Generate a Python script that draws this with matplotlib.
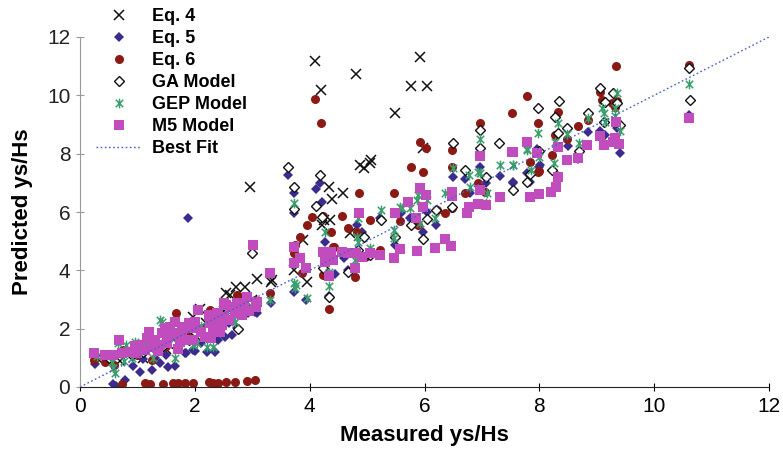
import matplotlib
matplotlib.use("Agg")
import matplotlib.pyplot as plt
from matplotlib.path import Path

# Eq. 4
eq4_x = [4.10, 5.93, 4.81, 4.20, 5.77, 6.04, 5.48, 5.98, 5.06, 4.88,
         5.05, 4.94, 4.34, 4.58, 4.39, 4.25, 4.36, 4.21, 4.70, 2.96,
         3.88, 3.72, 3.95, 3.34, 2.55, 2.72, 2.87, 3.09, 3.32, 2.61,
         2.09, 1.97, 0.30, 0.70, 1.00, 1.20, 1.40, 1.60, 1.80, 1.90,
         2.20, 2.40, 2.50, 2.80, 3.00, 1.10, 1.50, 2.00, 2.30]
eq4_y = [11.18, 11.30, 10.73, 10.18, 10.33, 10.33, 9.40, 8.19, 7.80, 7.61,
         7.69, 7.50, 6.85, 6.66, 6.43, 5.72, 5.72, 5.55, 5.29, 6.86,
         5.04, 4.01, 3.61, 3.67, 3.23, 3.44, 3.44, 3.69, 3.61, 3.15,
         2.67, 2.41, 1.00, 0.90, 1.20, 1.40, 1.50, 1.60, 1.70, 2.00,
         2.20, 2.00, 2.60, 2.70, 3.00, 1.00, 1.30, 1.80, 2.50]

# Eq. 5
eq5_x = [1.88, 0.26, 0.58, 0.63, 0.78, 0.93, 1.05, 1.25, 1.39, 1.54,
         1.65, 1.85, 2.00, 2.21, 2.35, 2.53, 2.64, 2.73, 2.90, 3.05,
         3.08, 2.93, 3.32, 3.72, 3.94, 1.83, 1.97, 1.10, 1.30, 1.50,
         1.70, 2.10, 2.40, 2.60,
         3.63, 3.73, 3.72, 4.18, 4.11, 4.21, 4.27, 4.33, 4.44, 4.59,
         4.67, 4.82, 4.92, 5.23, 5.49, 5.59, 5.75, 5.98, 6.04, 6.20,
         6.49, 6.71, 6.79, 6.97, 7.07, 7.32, 7.55, 7.78, 7.83, 7.54,
         8.00, 7.96, 8.01, 8.32, 8.50, 8.68, 8.84, 9.06, 9.15, 9.29,
         9.35, 9.40, 10.61]
eq5_y = [5.79, 0.78, 0.12, 0.04, 0.24, 0.72, 0.50, 0.60, 0.82, 0.70,
         0.71, 1.16, 1.24, 1.21, 1.21, 1.70, 1.78, 2.01, 2.58, 2.58,
         2.53, 2.53, 2.87, 3.27, 3.00, 1.15, 1.27, 0.95, 1.00, 1.10,
         1.30, 1.50, 1.60, 2.20,
         7.27, 6.64, 5.98, 6.98, 6.78, 6.33, 4.98, 3.12, 3.87, 4.41,
         4.01, 5.55, 5.30, 5.80, 4.87, 5.95, 5.78, 5.32, 6.01, 5.55,
         7.21, 7.12, 6.66, 7.55, 6.98, 7.25, 7.00, 7.35, 7.04, 7.04,
         7.55, 8.15, 7.61, 7.25, 8.26, 7.82, 8.75, 8.79, 8.65, 8.45,
         8.87, 8.03, 9.32]

# Eq. 6
eq6_x = [0.74, 1.13, 1.22, 1.44, 1.62, 1.71, 1.83, 1.97, 2.24, 2.32,
         2.41, 2.55, 2.70, 2.90, 3.05,
         0.24, 0.44, 0.60, 0.75, 1.25, 1.00, 1.50, 1.68, 1.90, 2.10,
         2.26, 2.50, 2.73, 2.76, 2.90, 3.05, 3.31, 3.86,
         4.09, 4.20, 5.92, 6.03, 6.48, 6.97, 7.53, 7.78, 7.97, 8.33,
         4.86, 5.47, 5.77, 5.97, 4.24, 4.56, 4.38, 4.67, 4.82, 5.05,
         5.57, 3.84, 3.75, 3.72, 4.04, 3.95, 4.41, 4.79, 4.97, 5.23,
         4.33, 4.24, 6.21, 6.36, 6.48, 6.71, 6.94, 7.06, 7.84, 7.98,
         5.88, 6.48, 8.28, 8.48, 8.22, 8.00, 8.68, 8.84, 9.05, 9.09,
         9.26, 9.36, 9.32, 9.34, 10.60, 4.42]
eq6_y = [0.09, 0.13, 0.10, 0.10, 0.13, 0.14, 0.13, 0.13, 0.16, 0.15,
         0.14, 0.17, 0.18, 0.22, 0.24,
         0.93, 0.85, 0.75, 1.27, 0.93, 1.10, 1.40, 2.53, 1.70, 2.00,
         2.64, 2.30, 3.15, 3.12, 2.80, 3.00, 3.21, 3.90,
         9.87, 9.06, 8.41, 8.18, 8.12, 9.06, 9.38, 9.99, 9.06, 9.42,
         6.64, 6.64, 7.53, 7.36, 5.85, 5.86, 5.32, 5.44, 5.30, 5.72,
         5.70, 5.13, 4.87, 4.58, 5.84, 5.55, 4.81, 3.78, 4.47, 4.70,
         2.66, 3.84, 6.07, 5.95, 6.13, 6.64, 6.98, 6.70, 7.72, 7.38,
         5.55, 7.55, 8.64, 8.49, 7.95, 7.40, 8.95, 9.15, 10.10, 9.84,
         9.75, 9.80, 9.60, 11.00, 11.04, 4.79]

# GA Model
ga_x = [3.63, 3.73, 3.72, 4.18, 4.11, 4.21, 4.24, 4.67, 5.05, 4.85,
        4.94, 5.24, 5.48, 5.76, 5.97, 6.04, 6.20, 6.48, 6.49, 6.71,
        6.97, 6.97, 7.07, 7.30, 7.54, 7.78, 7.97, 8.34, 8.28, 8.48,
        8.33, 8.00, 7.84, 8.22, 8.69, 8.84, 9.06, 9.29, 9.15, 9.35,
        9.12, 9.40, 10.61, 10.63, 2.99, 2.76, 2.00, 4.33,
        0.50, 0.90, 1.10, 1.30, 1.45, 1.60, 1.90, 2.30, 2.60, 3.00]
ga_y = [7.55, 6.87, 6.09, 7.27, 6.22, 5.84, 4.07, 3.95, 4.53, 4.70,
        5.15, 5.72, 5.13, 5.55, 5.06, 5.75, 6.07, 6.18, 8.35, 7.44,
        8.81, 8.20, 7.19, 8.35, 6.75, 7.04, 9.55, 9.80, 9.25, 8.87,
        8.70, 8.10, 7.30, 7.44, 8.10, 9.40, 10.24, 10.07, 9.78, 9.75,
        9.10, 8.98, 10.93, 9.84, 4.58, 2.00, 1.90, 3.10,
        1.00, 1.10, 1.20, 1.30, 1.40, 1.50, 1.60, 2.10, 2.50, 2.90]

# GEP Model
gep_x = [3.72, 3.72, 3.75, 3.95, 4.33, 4.33, 4.27, 4.79, 5.05, 5.47,
         5.47, 5.87, 6.04, 6.36, 6.49, 6.78, 7.09, 7.32, 7.55, 7.78,
         7.85, 6.97, 6.79, 5.75, 5.88, 6.18, 5.92, 5.60, 5.24, 5.57,
         4.85, 4.82, 4.85, 3.76, 6.97, 7.97, 8.33, 8.48, 8.28, 7.78,
         7.54, 8.00, 8.25, 8.69, 8.84, 9.35, 9.09, 9.32, 9.12, 9.32,
         9.15, 9.40, 10.61, 7.07, 6.94,
         0.58, 0.61, 0.55, 0.67, 0.80, 0.96, 1.13, 1.36, 1.42, 1.65,
         1.28, 0.90, 0.76, 1.39, 2.03, 2.21, 2.32, 1.97, 2.55, 2.67,
         2.90, 2.70, 3.31, 1.80, 1.60, 2.10, 2.40, 0.30]
gep_y = [6.30, 3.56, 3.40, 3.04, 3.46, 3.95, 5.32, 4.35, 4.75, 5.38,
         5.10, 6.41, 6.41, 6.66, 7.50, 7.27, 6.64, 7.61, 7.61, 8.12,
         7.44, 7.33, 6.87, 6.13, 6.58, 5.78, 5.61, 6.13, 6.07, 6.18,
         5.80, 5.15, 4.98, 3.50, 8.49, 8.72, 9.04, 8.67, 8.41, 8.15,
         7.61, 7.89, 7.67, 8.35, 9.21, 10.07, 9.55, 9.55, 9.38, 9.30,
         9.10, 8.79, 10.39, 6.30, 7.38,
         0.64, 0.47, 0.87, 1.50, 1.45, 1.55, 1.50, 1.50, 2.24, 0.98,
         0.98, 0.98, 0.90, 2.30, 1.50, 1.38, 1.38, 1.44, 2.64, 2.30,
         2.92, 2.24, 3.00, 1.90, 1.70, 2.10, 2.30, 1.05]

# M5 Model
m5_x = [0.24, 0.44, 0.58, 0.68, 0.73, 0.87, 0.99, 1.05, 1.13, 1.16,
        1.25, 1.31, 1.40, 1.42, 1.48, 1.51, 1.57, 1.63, 1.65, 1.74,
        1.77, 1.80, 1.80, 1.89, 1.89, 1.97, 1.97, 2.00, 2.06, 2.18,
        2.21, 2.24, 2.26, 2.29, 2.32, 2.32, 2.38, 2.44, 2.44, 2.47,
        2.50, 2.50, 2.55, 2.61, 2.70, 2.73, 2.79, 2.82, 2.85, 2.90,
        3.07, 3.08, 3.31, 3.02, 3.72, 3.72, 3.83, 3.94,
        1.20, 1.55, 2.10, 2.35, 0.95, 2.60, 2.95, 1.70, 1.35,
        4.24, 4.38, 4.27, 4.41, 4.56, 4.67, 4.81, 4.91, 5.05, 5.23,
        4.79, 4.33, 5.47, 5.57, 5.87, 6.18, 6.36, 6.46, 4.86, 5.48,
        5.72, 5.92, 6.03, 5.97, 5.85, 6.48, 6.48, 6.77, 6.74, 6.93,
        7.07, 6.96, 6.97, 7.31, 7.54, 7.84, 8.00, 7.96, 7.53, 7.78,
        8.21, 8.29, 8.32, 8.33, 8.48, 8.68, 8.83, 9.06, 9.13, 9.29,
        9.32, 9.38, 9.34, 10.61]
m5_y = [1.15, 1.10, 1.10, 1.61, 1.15, 1.21, 1.15, 1.44, 1.27, 1.67,
        1.38, 1.61, 1.45, 1.84, 2.01, 1.50, 2.07, 1.84, 2.24, 1.55,
        1.90, 2.07, 1.61, 2.01, 2.18, 1.61, 2.01, 2.24, 2.64, 1.72,
        1.72, 2.47, 2.18, 1.67, 2.07, 1.95, 2.53, 1.90, 2.41, 2.13,
        2.41, 2.87, 2.81, 2.75, 2.53, 2.87, 2.70, 2.47, 2.75, 3.10,
        2.75, 2.92, 3.92, 4.88, 4.81, 4.24, 4.41, 4.07,
        1.90, 1.75, 1.90, 2.30, 1.40, 2.30, 2.60, 1.30, 1.25,
        4.64, 4.64, 4.30, 4.35, 4.64, 4.60, 4.60, 4.47, 4.60, 4.53,
        4.07, 3.81, 4.41, 4.73, 4.66, 4.78, 5.06, 4.84, 5.95, 5.95,
        6.35, 6.81, 6.58, 6.18, 5.78, 6.70, 6.55, 6.18, 5.95, 6.27,
        6.24, 6.75, 7.92, 6.52, 8.07, 6.50, 6.61, 8.03, 8.05, 8.41,
        6.67, 6.85, 7.21, 8.22, 7.80, 7.84, 8.30, 8.60, 8.30, 8.41,
        8.55, 8.33, 9.10, 9.21]

best_fit_x = [0, 12]
best_fit_y = [0, 12]

# excel-like asterisk: x plus a vertical bar
star = Path([(-1, -1), (1, 1), (-1, 1), (1, -1), (0, -1.3), (0, 1.3)],
            [Path.MOVETO, Path.LINETO, Path.MOVETO, Path.LINETO, Path.MOVETO, Path.LINETO])

plt.rcParams['font.family'] = ['Liberation Sans', 'DejaVu Sans']

fig = plt.figure(figsize=(7.83, 4.49), dpi=100)
ax = fig.add_axes([80 / 783, 1 - 387 / 449, 689 / 783, 350 / 449])

ax.plot(eq4_x, eq4_y, 'x', color='#111111', markersize=6.5, markeredgewidth=1.1, label='Eq. 4')
ax.plot(eq5_x, eq5_y, 'D', color='#3b2b8e', markersize=5.5, markeredgewidth=0, label='Eq. 5')
ax.plot(eq6_x, eq6_y, 'o', color='#8b1a14', markersize=6.5, markeredgewidth=0, label='Eq. 6')
ax.plot(ga_x, ga_y, 'D', markerfacecolor='white', markeredgecolor='#111111', markersize=4.8,
        markeredgewidth=1.0, label='GA Model')
ax.plot(gep_x, gep_y, marker=star, linestyle='none', color='#3a9f6c', markersize=7,
        markeredgewidth=1.1, label='GEP Model')
ax.plot(m5_x, m5_y, 's', color='#c04cbe', markersize=7, markeredgewidth=0, label='M5 Model')
ax.plot(best_fit_x, best_fit_y, linestyle=(0, (1.2, 1.8)), color='#4a5fc8', linewidth=1, label='Best Fit')

ax.set_xlim(0, 12)
ax.set_ylim(0, 12)
ax.set_xticks(range(0, 13, 2))
ax.set_yticks(range(0, 13, 2))

ax.spines['top'].set_visible(False)
ax.spines['right'].set_visible(False)
ax.spines['left'].set_color('#999999')
ax.spines['bottom'].set_color('#222222')
ax.tick_params(axis='both', direction='inout', length=6, labelsize=15, pad=4)
ax.tick_params(axis='y', colors='#999999', labelcolor='#222222')

ax.set_xlabel('Measured ys/Hs', fontsize=16, fontweight='bold', labelpad=7)
ax.set_ylabel('Predicted ys/Hs', fontsize=16, fontweight='bold', labelpad=10)

ax.legend(loc='upper left', bbox_to_anchor=(96 / 783, 1 - 8 / 449), bbox_transform=fig.transFigure,
          frameon=False, prop={'size': 13, 'weight': 'bold'}, handlelength=2.5,
          handletextpad=0.6, labelspacing=0.28, borderpad=0, borderaxespad=0)

fig.savefig('out.png', dpi=100)
